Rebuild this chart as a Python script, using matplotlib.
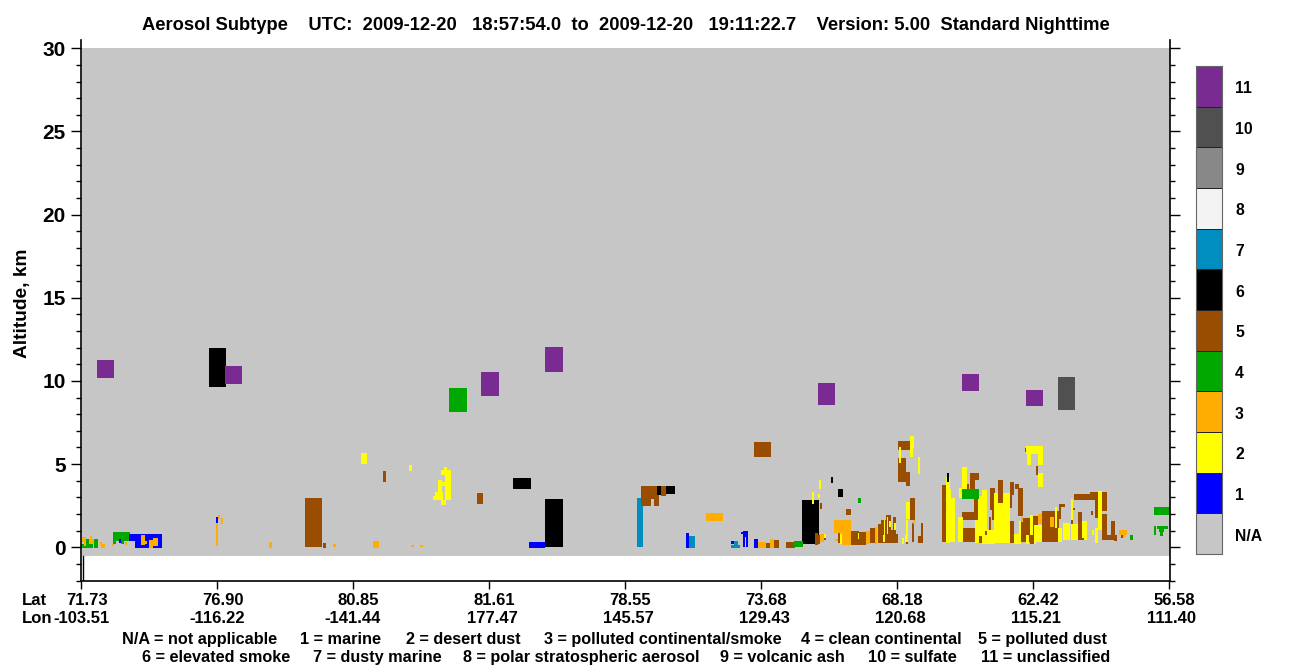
"""Aerosol subtype curtain, drawn from blocks of lidar columns and altitude bins."""

import matplotlib

matplotlib.use("Agg")
import matplotlib.pyplot as plt
import numpy as np

plt.rcParams["font.family"] = ["Liberation Sans", "DejaVu Sans"]
plt.rcParams["font.weight"] = "bold"

BIN_KM = 0.06013  # one altitude bin, km

lat_labels = ["71.73", "76.90", "80.85", "81.61", "78.55", "73.68", "68.18", "62.42", "56.58"]
lon_labels = ["-103.51", "-116.22", "-141.44", "177.47", "145.57", "129.43", "120.68", "115.21", "111.40"]
lat_nudge = [6, 6, 5, 5, 5, 5, 5, 5, 5]
lon_nudge = [0, 0, 0, 3, 3, 3, 3, 3, 3]
altitude_ticks = [0, 5, 10, 15, 20, 25, 30]
class_labels = ["N/A", "1", "2", "3", "4", "5", "6", "7", "8", "9", "10", "11"]
class_colors = ["#C6C6C6", "#0000FF", "#FFFF00", "#FFAD00", "#00A800", "#994D00", "#000000",
                "#008DBF", "#F3F3F3", "#888888", "#505050", "#7A2B92"]

legend_line1 = [(122.5, "N/A = not applicable"), (300.5, "1 = marine"), (406, "2 = desert dust"),
                (544, "3 = polluted continental/smoke"), (801, "4 = clean continental"),
                (978, "5 = polluted dust")]
legend_line2 = [(142, "6 = elevated smoke"), (313, "7 = dusty marine"),
                (463, "8 = polar stratospheric aerosol"), (720, "9 = volcanic ash"),
                (868, "10 = sulfate"), (981, "11 = unclassified")]

# blocks are (first column, last column, first bin, last bin)
polluted_dust = [
    (224, 241, 0, 49), (242, 245, -1, 4), (302, 305, 65, 76), (396, 402, 43, 54),
    (560, 570, 41, 61), (570, 576, 48, 61), (573, 578, 41, 52), (580, 585, 51, 61),
    (673, 690, 90, 105), (685, 689, -1, 4), (693, 698, -1, 7), (705, 714, -1, 5),
    (739, 741, 38, 44), (765, 770, 32, 38), (757, 759, 4, 15), (769, 778, 2, 16),
    (778, 785, 2, 15), (789, 794, 4, 19), (797, 817, 4, 13), (797, 803, 13, 23),
    (800, 805, 13, 27), (805, 810, 12, 32), (810, 815, 13, 17), (812, 815, 17, 30),
    (817, 825, 65, 89), (825, 829, 61, 75), (817, 829, 97, 106), (829, 834, 27, 49),
    (831, 833, 5, 24), (825, 827, 3, 5), (840, 842, 5, 24), (837, 842, 4, 11),
    (861, 865, 5, 62), (881, 898, 27, 35), (881, 895, 5, 19), (886, 888, 57, 63),
    (889, 898, 67, 74), (889, 894, 51, 67), (893, 897, 35, 50), (909, 914, 37, 59),
    (908, 910, 17, 30), (911, 914, 27, 37), (929, 933, 52, 65), (929, 931, 39, 52),
    (929, 933, 4, 26), (934, 938, 58, 63), (937, 942, 31, 59), (940, 949, 5, 29),
    (949, 953, 3, 31), (953, 957, 22, 31), (961, 978, 5, 36), (978, 980, 28, 43),
    (979, 984, 40, 43), (990, 992, 23, 27), (992, 994, 37, 39), (997, 1001, 7, 35),
    (993, 1026, 47, 53), (1009, 1026, 52, 55), (1014, 1017, 29, 52), (1021, 1026, 36, 52),
    (1021, 1026, 7, 33), (1010, 1012, 32, 36), (1026, 1033, 7, 12), (1030, 1034, 12, 26),
    (1033, 1036, 6, 12), (1040, 1042, 9, 12), (944, 946, 95, 99), (955, 957, 72, 81),
]
elevated_smoke = [
    (128, 145, 160, 199), (432, 450, 58, 69), (464, 482, 0, 48), (576, 580, 52, 61),
    (585, 594, 53, 61), (721, 738, 3, 47), (750, 752, 64, 70), (757, 762, 50, 58),
]
desert_dust = [
    (280, 286, 83, 94), (328, 331, 76, 82), (364, 370, 47, 77), (363, 366, 77, 80),
    (360, 364, 72, 77), (357, 361, 51, 67), (360, 364, 61, 65), (354, 362, 47, 55),
    (352, 354, 47, 51), (360, 365, 42, 47), (731, 733, 43, 55), (737, 739, 49, 53),
    (738, 740, 58, 67), (743, 745, 9, 13), (759, 761, 3, 13), (777, 778, 8, 14),
    (803, 804, 6, 27), (806, 807, 13, 30), (808, 810, 20, 26), (813, 815, 17, 24),
    (802, 804, 5, 12), (829, 833, 99, 111), (829, 832, 90, 99), (818, 820, 84, 100),
    (837, 839, 73, 90), (825, 829, 28, 45), (825, 827, 5, 27), (824, 827, 5, 12),
    (821, 823, 3, 9), (865, 869, 4, 70), (869, 874, 5, 49), (867, 870, 49, 58),
    (877, 882, 5, 30), (881, 886, 58, 80), (878, 881, 49, 59), (894, 897, 4, 27),
    (897, 901, 4, 51), (901, 906, 3, 57), (906, 914, 3, 17), (913, 929, 4, 54),
    (933, 938, 3, 13), (938, 940, 3, 26), (945, 948, 3, 12), (949, 952, 12, 32),
    (953, 955, 3, 22), (955, 961, 5, 22), (974, 976, 19, 40), (977, 981, 5, 19),
    (982, 989, 7, 24), (990, 992, 27, 48), (990, 997, 7, 23), (1001, 1006, 7, 26),
    (1017, 1021, 17, 56), (1014, 1017, 4, 19), (1011, 1013, 12, 17), (945, 962, 93, 101),
    (946, 950, 82, 93), (957, 962, 82, 93), (957, 962, 60, 74),
]
clean_continental = [
    (13, 17, -1, 8), (0, 12, -1, 3), (5, 8, 3, 8), (32, 49, 6, 15), (32, 35, 3, 6),
    (40, 43, 3, 6), (368, 386, 135, 159), (713, 722, 0, 6), (777, 780, 44, 49),
    (881, 898, 48, 58), (1049, 1052, 7, 12), (1073, 1089, 32, 40), (1073, 1075, 12, 21),
    (1076, 1087, 18, 21), (1078, 1083, 15, 18), (1079, 1082, 11, 15),
]
marine = [
    (38, 40, 4, 8), (48, 81, 6, 13), (54, 81, -1, 6), (135, 137, 24, 30), (448, 464, -1, 5),
    (605, 608, -1, 14), (650, 654, 3, 6), (662, 664, 0, 16), (665, 667, 0, 16),
    (664, 665, 10, 16), (660, 662, 13, 15), (673, 677, -1, 8),
]
polluted_continental = [
    (1, 5, 5, 10), (3, 5, 1, 5), (9, 11, 3, 11), (8, 13, 3, 8), (19, 21, 2, 5),
    (20, 24, -1, 3), (31, 33, 1, 3), (44, 46, 2, 5), (60, 64, 2, 12), (64, 66, 3, 6),
    (68, 72, -1, 7), (72, 77, 1, 9), (135, 137, 1, 24), (137, 139, 28, 32), (140, 142, 23, 29),
    (188, 191, -1, 5), (252, 255, 0, 3), (292, 298, -1, 6), (330, 333, 0, 2), (339, 342, 0, 2),
    (625, 642, 26, 34), (677, 685, -1, 5), (689, 693, -1, 8), (739, 743, 5, 13),
    (753, 770, 14, 27), (761, 770, 2, 14), (754, 757, 6, 8), (785, 789, 3, 16),
    (794, 796, 3, 20), (832, 834, 23, 27), (957, 961, 23, 33), (969, 973, 20, 30),
    (940, 942, 25, 30), (1038, 1046, 12, 17), (1042, 1044, 10, 12),
]
dusty_marine = [
    (556, 560, 0, 49), (560, 562, 0, 41), (608, 614, -1, 11), (653, 657, 1, 6), (650, 659, -1, 2),
]
sulfate = [(977, 994, 137, 170)]
unclassified = [
    (16, 33, 169, 187), (144, 161, 163, 181), (400, 418, 151, 175), (464, 482, 175, 200),
    (737, 754, 142, 164), (881, 898, 156, 173), (945, 962, 141, 157),
]
# these sit on top of the yellow and black layers
polluted_dust_top = [
    (734, 737, 2, 14), (737, 739, 3, 12), (743, 745, 7, 9), (917, 922, 44, 67),
    (898, 901, 4, 11), (904, 906, 12, 16), (1001, 1003, 7, 9),
]
elevated_smoke_top = [(866, 868, 65, 74)]

draw_order = [
    (polluted_dust, 5), (elevated_smoke, 6), (desert_dust, 2), (clean_continental, 4),
    (marine, 1), (polluted_continental, 3), (dusty_marine, 7), (sulfate, 10),
    (unclassified, 11), (polluted_dust_top, 5), (elevated_smoke_top, 6),
]


def draw_blocks(ax, blocks, color):
    blocks = np.array(blocks, dtype=float)
    ax.bar(
        blocks[:, 0],
        blocks[:, 3] * BIN_KM - blocks[:, 2] * BIN_KM,
        width=blocks[:, 1] - blocks[:, 0],
        bottom=blocks[:, 2] * BIN_KM,
        align="edge",
        color=color,
        linewidth=0,
        antialiased=False,
    )


def px(x, y):
    """Reference pixel to figure fraction, for the text around the plot."""
    return x / 1300, 1 - y / 667


def main() -> None:
    fig = plt.figure(figsize=(13, 6.67), dpi=100)
    ax = fig.add_axes([81 / 1300, 1 - 580.5 / 667, 1089 / 1300, 540.5 / 667])

    # the curtain itself: N/A everywhere the lidar looked
    ax.bar(1, 30.52, width=1088, bottom=-0.52, align="edge", color=class_colors[0],
           linewidth=0, antialiased=False)
    ax.plot([1.5, 1.5], [-2, -0.52], color="black", linewidth=1)
    for blocks, class_id in draw_order:
        draw_blocks(ax, blocks, class_colors[class_id])

    ax.set_xlim(0, 1089)
    ax.set_ylim(-2, 30.5)
    ax.set_yticks(altitude_ticks)
    ax.set_yticks(np.arange(-2, 31), minor=True)
    ax.set_xticks(np.arange(9) * 136)
    ax.set_xticklabels([])
    ax.spines["top"].set_visible(False)
    for side in ["left", "right", "bottom"]:
        ax.spines[side].set_linewidth(1.2)
    ax.tick_params(axis="y", which="major", length=7, width=1, right=True, labelsize=15, pad=4)
    ax.tick_params(axis="y", which="minor", length=3.5, width=1, right=True)
    ax.tick_params(axis="x", which="major", length=5.5, width=1)

    fig.text(*px(23, 303), "Altitude, km", rotation=90, fontsize=13.8, ha="center", va="center")
    fig.text(*px(625.5, 30),
             "Aerosol Subtype    UTC:  2009-12-20   18:57:54.0  to  2009-12-20   19:11:22.7"
             "    Version: 5.00  Standard Nighttime",
             fontsize=13.2, ha="center", va="baseline")

    fig.text(*px(22, 605), "Lat", fontsize=12, ha="left", va="baseline")
    fig.text(*px(22, 623), "Lon", fontsize=12, ha="left", va="baseline")
    for i in range(len(lat_labels)):
        tick_px = 81 + i * 136
        fig.text(*px(tick_px + lat_nudge[i], 605), lat_labels[i], fontsize=12, ha="center", va="baseline")
        fig.text(*px(tick_px + lon_nudge[i], 623), lon_labels[i], fontsize=12, ha="center", va="baseline")

    for x, text in legend_line1:
        fig.text(*px(x, 644.3), text, fontsize=11.7, ha="left", va="baseline")
    for x, text in legend_line2:
        fig.text(*px(x, 662.3), text, fontsize=11.7, ha="left", va="baseline")

    # colour key, N/A at the bottom
    cax = fig.add_axes([1196 / 1300, 1 - 554 / 667, 26 / 1300, 488 / 667])
    cells = np.arange(len(class_colors)).reshape(-1, 1)
    cax.pcolormesh(cells, cmap=matplotlib.colors.ListedColormap(class_colors),
                   edgecolors="#222222", linewidth=0.6)
    cax.set_xticks([])
    cax.set_yticks([])
    for spine in cax.spines.values():
        spine.set_color("#666666")
    for i, label in enumerate(class_labels):
        y = 554 - (i + 0.5) * 488 / 12 + 7
        fig.text(*px(1235, y), label, fontsize=11.3, ha="left", va="baseline")

    fig.savefig("out.png", dpi=100)


if __name__ == "__main__":
    main()
